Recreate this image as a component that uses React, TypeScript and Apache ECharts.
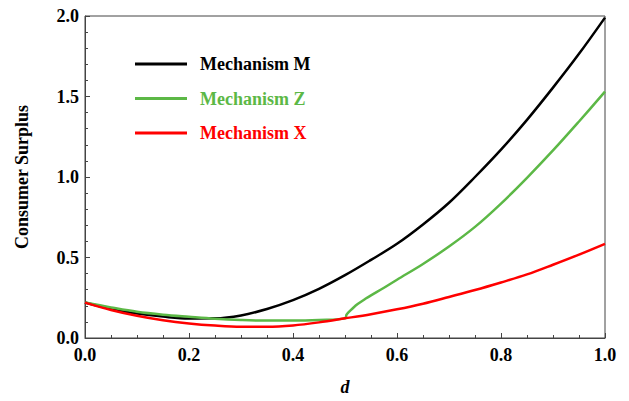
import React, { useEffect, useRef } from "react";
import * as echarts from "echarts";

const dGrid = [0, 0.05, 0.1, 0.15, 0.2, 0.25, 0.3, 0.35, 0.4, 0.45, 0.5, 0.55, 0.6, 0.65, 0.7, 0.75, 0.8, 0.85, 0.9, 0.95, 1.0];
const mechanismM = [0.22, 0.18, 0.152, 0.133, 0.121, 0.122, 0.14, 0.18, 0.235, 0.305, 0.39, 0.485, 0.585, 0.705, 0.84, 1.0, 1.17, 1.355, 1.555, 1.765, 1.99];
const mechanismX = [0.22, 0.174, 0.138, 0.11, 0.09, 0.077, 0.07, 0.07, 0.078, 0.097, 0.122, 0.148, 0.178, 0.213, 0.255, 0.298, 0.345, 0.395, 0.455, 0.518, 0.585];
const zD = [0, 0.05, 0.1, 0.15, 0.2, 0.25, 0.3, 0.35, 0.4, 0.45, 0.5, 0.503, 0.507, 0.515, 0.525, 0.54, 0.55, 0.575, 0.6, 0.65, 0.7, 0.75, 0.8, 0.85, 0.9, 0.95, 1.0];
const mechanismZ = [0.22, 0.19, 0.163, 0.145, 0.132, 0.12, 0.112, 0.108, 0.108, 0.112, 0.122, 0.145, 0.16, 0.185, 0.212, 0.245, 0.265, 0.312, 0.362, 0.46, 0.568, 0.69, 0.835, 0.995, 1.165, 1.345, 1.53];
const xTicks = [0, 0.2, 0.4, 0.6, 0.8, 1.0];
const yTicks = [0, 0.5, 1.0, 1.5, 2.0];

const seriesNames = ["Mechanism M", "Mechanism Z", "Mechanism X"];
const seriesColors = ["#000000", "#5cb846", "#ff0000"];

const FONT = "'Liberation Serif', 'Times New Roman', serif";

export default function App() {
  const ref = useRef<HTMLDivElement>(null);
  useEffect(() => {
    if (!ref.current) return;
    document.body.style.margin = "0";
    const chart = echarts.init(ref.current, undefined, { renderer: "svg" });
    const pairs = (xs: number[], ys: number[]) => xs.map((x, i) => [x, ys[i]]);
    const lineSeries = (name: string, color: string, data: number[][]) => ({
      name,
      type: "line",
      data,
      showSymbol: false,
      symbol: "none",
      smooth: 0.35,
      lineStyle: { color, width: 2.5 },
      itemStyle: { color },
    });
    chart.setOption({
      animation: false,
      grid: {
        left: 85,
        top: 16,
        right: 24,
        bottom: 62,
        show: true,
        borderColor: "#444",
        borderWidth: 1,
        backgroundColor: "transparent",
      },
      legend: {
        orient: "vertical",
        left: 130,
        top: 49,
        itemWidth: 52,
        itemHeight: 3,
        itemGap: 14.5,
        icon: "rect",
        data: seriesNames.map((n, i) => ({
          name: n,
          textStyle: { color: seriesColors[i] },
        })),
        textStyle: {
          fontFamily: FONT,
          fontWeight: "bold",
          fontSize: 18,
          padding: [0, 0, 0, 8],
          lineHeight: 20,
        },
      },
      xAxis: {
        type: "value",
        min: 0,
        max: 1,
        interval: 0.2,
        name: "d",
        nameLocation: "middle",
        nameGap: 40,
        nameTextStyle: {
          fontFamily: FONT,
          fontWeight: "bold",
          fontStyle: "italic",
          fontSize: 18,
          color: "#000",
        },
        axisLine: { show: true, lineStyle: { color: "#444", width: 1 } },
        axisTick: { show: true, inside: true, length: 5, lineStyle: { color: "#444" } },
        minorTick: { show: true, splitNumber: 4, length: 3, lineStyle: { color: "#444" } },
        splitLine: { show: false },
        axisLabel: {
          margin: 8,
          fontFamily: FONT,
          fontWeight: "bold",
          fontSize: 18,
          color: "#000",
          formatter: (v: number) => {
            const t = xTicks.find((k) => Math.abs(k - v) < 1e-9);
            return t === undefined ? "" : t.toFixed(1);
          },
        },
      },
      yAxis: {
        type: "value",
        min: 0,
        max: 2,
        interval: 0.5,
        name: "Consumer Surplus",
        nameLocation: "middle",
        nameGap: 54,
        nameTextStyle: {
          fontFamily: FONT,
          fontWeight: "bold",
          fontSize: 18,
          color: "#000",
        },
        axisLine: { show: true, lineStyle: { color: "#444", width: 1 } },
        axisTick: { show: true, inside: true, length: 5, lineStyle: { color: "#444" } },
        minorTick: { show: true, splitNumber: 5, length: 3, lineStyle: { color: "#444" } },
        splitLine: { show: false },
        axisLabel: {
          margin: 6,
          fontFamily: FONT,
          fontWeight: "bold",
          fontSize: 18,
          color: "#000",
          formatter: (v: number) => {
            const t = yTicks.find((k) => Math.abs(k - v) < 1e-9);
            return t === undefined ? "" : t.toFixed(1);
          },
        },
      },
      series: [
        lineSeries(seriesNames[0], seriesColors[0], pairs(dGrid, mechanismM)),
        lineSeries(seriesNames[1], seriesColors[1], pairs(zD, mechanismZ)),
        lineSeries(seriesNames[2], seriesColors[2], pairs(dGrid, mechanismX)),
      ],
    });
    return () => chart.dispose();
  }, []);
  return <div ref={ref} style={{ width: 629, height: 401 }} />;
}
